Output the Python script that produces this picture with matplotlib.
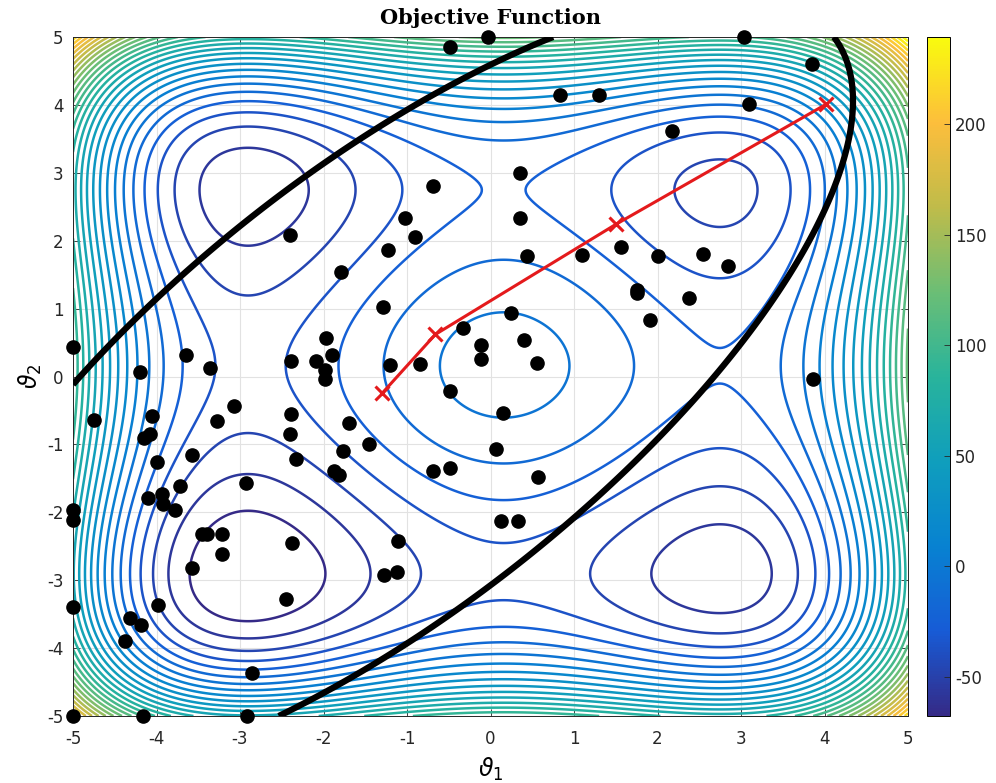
import numpy as np
import matplotlib
matplotlib.use('Agg')
import matplotlib.pyplot as plt
from matplotlib.colors import LinearSegmentedColormap, Normalize

plt.rcParams['axes.unicode_minus'] = False

# parula-like colormap (MATLAB default)
PARULA = [(0.208, 0.166, 0.529), (0.090, 0.360, 0.840), (0.030, 0.510, 0.820),
          (0.060, 0.620, 0.740), (0.160, 0.705, 0.610), (0.420, 0.745, 0.460),
          (0.750, 0.735, 0.290), (0.990, 0.745, 0.235), (0.976, 0.983, 0.054)]

# sampled points (theta1, theta2)
sample_t1 = [-2.40, -0.48, -0.03, 0.83, 1.30, 0.35, -0.69, -1.02, 0.35, -0.90,
             -1.23, 0.44, 1.09, 1.56, 3.04, 3.85, 3.10, 2.17, 2.00, 2.55,
             2.84, 1.75, 1.76, 2.38, 1.91, 3.86, -1.79, -1.29, -0.33, 0.24,
             -0.11, -0.11, 0.40, 0.56, -1.20, -0.84, -0.48, 0.15, -1.70, -1.46,
             -1.77, 0.06, -0.69, -0.48, -1.82, -1.87, 0.57, -5.00, -1.97, -3.65,
             -2.39, -2.09, -1.90, -1.98, -1.98, -3.36, -4.20, -3.07, -4.75, -4.05,
             -3.28, -2.39, -4.08, -4.15, -2.40, -3.58, -2.33, -3.99, -2.93, -3.72,
             -4.10, -3.93, -3.92, -3.78, -5.00, -5.00, -3.45, -3.39, -3.21, -3.21,
             -2.38, -3.58, -2.45, -5.00, -3.98, -4.32, -4.18, -4.38, -2.86, -5.00,
             -4.16, -2.92, 0.12, 0.33, -1.11, -1.27, -1.12]
sample_t2 = [2.08, 4.85, 5.00, 4.14, 4.14, 3.00, 2.80, 2.33, 2.34, 2.06,
             1.86, 1.78, 1.79, 1.90, 5.00, 4.60, 4.01, 3.62, 1.77, 1.81,
             1.63, 1.27, 1.23, 1.16, 0.83, -0.04, 1.54, 1.02, 0.72, 0.93,
             0.47, 0.26, 0.54, 0.20, 0.17, 0.19, -0.22, -0.54, -0.69, -0.99,
             -1.10, -1.07, -1.39, -1.35, -1.45, -1.39, -1.48, 0.44, 0.57, 0.31,
             0.23, 0.23, 0.32, 0.10, -0.03, 0.13, 0.07, -0.43, -0.64, -0.58,
             -0.66, -0.55, -0.84, -0.91, -0.85, -1.16, -1.21, -1.26, -1.57, -1.61,
             -1.79, -1.73, -1.88, -1.97, -1.96, -2.12, -2.32, -2.32, -2.32, -2.61,
             -2.45, -2.82, -3.28, -3.40, -3.36, -3.56, -3.66, -3.90, -4.37, -5.00,
             -5.00, -5.00, -2.13, -2.13, -2.43, -2.93, -2.88]

# optimizer path
path_t1 = [-1.30, -0.66, 1.50, 4.02]
path_t2 = [-0.25, 0.62, 2.24, 4.01]

# points (both visible arcs)
bound_t1 = [-5.00, -3.49, -3.31, -2.23, -1.81, -1.69, -0.61, 0.79,
            4.14, 4.35, 4.31, 4.11, 3.75, 3.67, 2.73, 1.55, 1.51, 0.03, -1.81, -2.55]
bound_t2 = [-0.10, 1.74, 1.86, 2.92, 3.26, 3.41, 4.25, 5.00,
            5.00, 4.06, 3.61, 2.87, 1.86, 1.74, -0.01, -1.44, -1.54, -3.01, -4.55, -5.00]


def objective(t1, t2):
    return 0.5 * (t1**4 - 16 * t1**2 + 5 * t1 + t2**4 - 16 * t2**2 + 5 * t2)


def conic_terms(x, y):
    return np.column_stack([x**2, x * y, y**2, x, y, np.ones_like(x)])


t = np.linspace(-5, 5, 401)
T1, T2 = np.meshgrid(t, t)
Z = objective(T1, T2)
levels = np.linspace(Z.min(), Z.max(), 32)[1:-1]

# conic through the boundary points
bx, by = np.array(bound_t1), np.array(bound_t2)
_, _, vt = np.linalg.svd(conic_terms(bx, by))
coef = vt[-1]
G = (conic_terms(T1.ravel(), T2.ravel()) @ coef).reshape(T1.shape)

cmap = LinearSegmentedColormap.from_list('parula', PARULA)
norm = Normalize(vmin=levels[0], vmax=levels[-1])

fig = plt.figure(figsize=(9.96, 7.83), dpi=100)
ax = fig.add_axes([73 / 996, 1 - 716 / 783, 835 / 996, 679 / 783])
cax = fig.add_axes([927 / 996, 1 - 716 / 783, 23 / 996, 679 / 783])

ax.grid(True, color='#e2e2e2', linewidth=0.8, zorder=0)
ax.set_axisbelow(True)
cs = ax.contour(T1, T2, Z, levels=levels, cmap=cmap, norm=norm, linewidths=1.8, zorder=2)
ax.contour(T1, T2, G, levels=[0], colors='k', linewidths=4.5, zorder=3)
ax.plot(sample_t1, sample_t2, 'o', color='k', markersize=9.5, clip_on=False, zorder=5)
ax.plot(path_t1, path_t2, '-x', color='#e41a1c', linewidth=2.2, markersize=10,
        markeredgewidth=2.2, zorder=6)

ax.set_xlim(-5, 5)
ax.set_ylim(-5, 5)
ax.set_xticks(range(-5, 6))
ax.set_yticks(range(-5, 6))
ax.tick_params(direction='in', top=True, right=True, length=5, width=0.6,
               labelsize=12, colors='#262626')
ax.tick_params(axis='x', pad=10)
ax.tick_params(axis='y', pad=7)
for s in ax.spines.values():
    s.set_color('#262626')
    s.set_linewidth(0.7)

ax.set_title('Objective Function', fontsize=15, fontweight='bold',
             family='DejaVu Serif', pad=9)
ax.set_xlabel(r'$\vartheta_1$', fontsize=17, labelpad=6)
ax.set_ylabel(r'$\vartheta_2$', fontsize=17, labelpad=2)

sm = plt.cm.ScalarMappable(norm=norm, cmap=cmap)
cb = fig.colorbar(sm, cax=cax)
cb.set_ticks([-50, 0, 50, 100, 150, 200])
cb.ax.tick_params(direction='in', length=4, width=0.6, labelsize=12, colors='#262626')
cb.outline.set_linewidth(0.7)

fig.savefig('out.png', dpi=100)
